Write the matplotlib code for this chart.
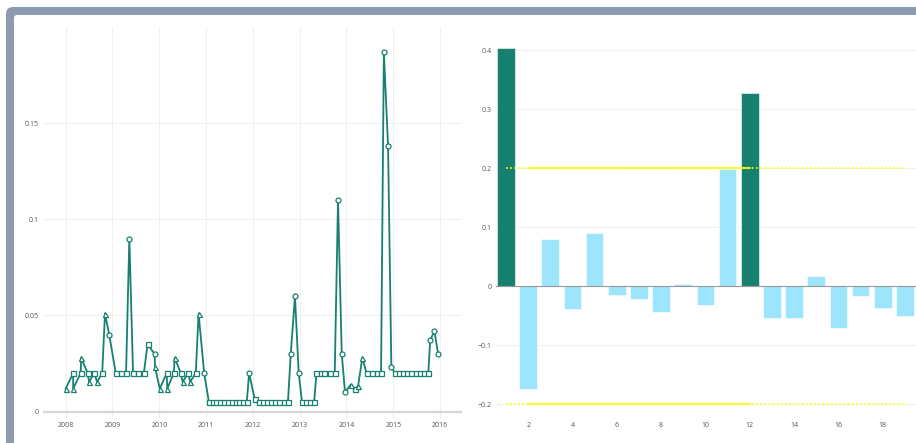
import matplotlib
matplotlib.use('Agg')
import matplotlib.pyplot as plt
from matplotlib.patches import FancyBboxPatch
import numpy as np

plt.rcParams['font.family'] = ['Open Sans', 'DejaVu Sans']

# monthly series (decimal year, value, marker symbol)
dates = [2008.00, 2008.16, 2008.16, 2008.32, 2008.33, 2008.47, 2008.50, 2008.61, 2008.67,
         2008.78, 2008.84, 2008.93, 2009.07, 2009.18, 2009.29, 2009.36, 2009.44, 2009.55,
         2009.67, 2009.75, 2009.90, 2009.91, 2010.01, 2010.16, 2010.17, 2010.31, 2010.33,
         2010.46, 2010.50, 2010.62, 2010.66, 2010.78, 2010.84, 2010.96,
         2011.06, 2011.14, 2011.22, 2011.30, 2011.38, 2011.46, 2011.55, 2011.63, 2011.71,
         2011.79, 2011.87, 2011.92, 2012.04,
         2012.13, 2012.22, 2012.30, 2012.39, 2012.47, 2012.56, 2012.66, 2012.75,
         2012.81, 2012.90, 2012.98, 2013.05, 2013.13, 2013.22, 2013.31,
         2013.36, 2013.45, 2013.53, 2013.65, 2013.75, 2013.82, 2013.90, 2013.97,
         2014.09, 2014.18, 2014.25, 2014.34, 2014.43, 2014.54, 2014.65, 2014.74,
         2014.80, 2014.89, 2014.96,
         2015.04, 2015.13, 2015.21, 2015.30, 2015.39, 2015.49, 2015.57, 2015.66, 2015.75,
         2015.79, 2015.88, 2015.96]
values = [0.012, 0.020, 0.012, 0.020, 0.028, 0.020, 0.0155, 0.020, 0.0155,
          0.020, 0.051, 0.040, 0.020, 0.020, 0.020, 0.090, 0.020, 0.020,
          0.020, 0.035, 0.030, 0.023, 0.012, 0.020, 0.012, 0.020, 0.028,
          0.020, 0.0155, 0.020, 0.0155, 0.020, 0.051, 0.020,
          0.005, 0.005, 0.005, 0.005, 0.005, 0.005, 0.005, 0.005, 0.005,
          0.005, 0.005, 0.020, 0.0065,
          0.005, 0.005, 0.005, 0.005, 0.005, 0.005, 0.005, 0.005,
          0.030, 0.060, 0.020, 0.005, 0.005, 0.005, 0.005,
          0.020, 0.020, 0.020, 0.020, 0.020, 0.110, 0.030, 0.010,
          0.014, 0.0116, 0.0135, 0.028, 0.020, 0.020, 0.020, 0.020,
          0.187, 0.138, 0.023,
          0.020, 0.020, 0.020, 0.020, 0.020, 0.020, 0.020, 0.020, 0.020,
          0.037, 0.042, 0.030]
symbols = ['^', 's', '^', 's', '^', 's', '^', 's', '^',
           's', '^', 'o', 's', 's', 's', 'o', 's', 's',
           's', 's', 'o', '^', '^', 's', '^', 's', '^',
           's', '^', 's', '^', 's', '^', 'o',
           's', 's', 's', 's', 's', 's', 's', 's', 's',
           's', 's', 'o', 's',
           's', 's', 's', 's', 's', 's', 's', 's',
           'o', 'o', 'o', 's', 's', 's', 's',
           's', 's', 's', 's', 's', 'o', 'o', 'o',
           '^', 's', '^', '^', 's', 's', 's', 's',
           'o', 'o', 'o',
           's', 's', 's', 's', 's', 's', 's', 's', 's',
           'o', 'o', 'o']
year_ticks = [2008, 2009, 2010, 2011, 2012, 2013, 2014, 2015, 2016]

# autocorrelation by lag
lags = list(range(1, 20))
acf = [0.404, -0.174, 0.080, -0.039, 0.091, -0.015, -0.021, -0.043, 0.004, -0.032,
       0.198, 0.328, -0.054, -0.053, 0.017, -0.070, -0.017, -0.037, -0.051]
conf_level = 0.2
lag_ticks = [2, 4, 6, 8, 10, 12, 14, 16, 18]

teal = '#178070'
light_blue = '#9de5fd'
grid_c = '#f0f0f0'
text_c = '#555555'

W, H = 916, 443
fig = plt.figure(figsize=(W / 100, H / 100), dpi=100)
fig.patch.set_facecolor('white')

# card frame with rounded corner
outer = FancyBboxPatch((6, -40), 980, 476, boxstyle='round,pad=0,rounding_size=7',
                       transform=None, facecolor='#8e9ab0', edgecolor='none', zorder=-3)
inner = FancyBboxPatch((14, -40), 980, 468, boxstyle='round,pad=0,rounding_size=3',
                       transform=None, facecolor='white', edgecolor='none', zorder=-2)
fig.patches.extend([outer, inner])


def px_axes(x0, y0, x1, y1):
    return fig.add_axes([x0 / W, 1 - y1 / H, (x1 - x0) / W, (y1 - y0) / H])


def style(ax):
    ax.set_facecolor('none')
    for s in ax.spines.values():
        s.set_visible(False)
    ax.tick_params(length=0, labelsize=5, colors=text_c, pad=3)


# left: time series
ax1 = px_axes(43, 27, 462, 418)
style(ax1)
ax1.set_xlim(2007.515, 2016.47)
ax1.set_ylim(-0.0033, 0.2)
ax1.set_xticks(year_ticks)
ax1.set_xticklabels([str(y) for y in year_ticks])
ax1.set_yticks([0, 0.05, 0.1, 0.15])
ax1.set_yticklabels(['0', '0.05', '0.1', '0.15'])
ax1.grid(True, color=grid_c, linewidth=0.8)
ax1.set_axisbelow(True)
ax1.axhline(0, color='#d6d6d6', linewidth=1.6, zorder=1)
ax1.plot(dates, values, color=teal, linewidth=1.3, zorder=2)
d = np.array(dates)
v = np.array(values)
sym = np.array(symbols)
for m in ['o', 's', '^']:
    k = sym == m
    ax1.plot(d[k], v[k], linestyle='none', marker=m, markersize=3.6,
             markerfacecolor='white', markeredgecolor=teal, markeredgewidth=0.9, zorder=3)

# right: autocorrelation bars
ax2 = px_axes(496, 27, 916, 418)
style(ax2)
ax2.set_xlim(0.55, 19.5)
ax2.set_ylim(-0.223, 0.439)
ax2.set_xticks(lag_ticks)
ax2.set_yticks([-0.2, -0.1, 0, 0.1, 0.2, 0.3, 0.4])
ax2.set_yticklabels(['\u22120.2', '\u22120.1', '0', '0.1', '0.2', '0.3', '0.4'])
ax2.yaxis.grid(True, color=grid_c, linewidth=0.8)
ax2.set_axisbelow(True)
colors = [teal if abs(a) > conf_level else light_blue for a in acf]
ax2.bar(lags, acf, width=0.8, color=colors, edgecolor='white', linewidth=0.4, zorder=2)
ax2.axhline(0, color='#999999', linewidth=0.8, zorder=3)
for lvl in (conf_level, -conf_level):
    ax2.plot([lags[0], lags[-1]], [lvl, lvl], color='#ffff00', linewidth=1.2,
             linestyle=(0, (1, 1.5)), zorder=4)
    ax2.plot([2, 12], [lvl, lvl], color='#ffff00', linewidth=1.2, zorder=4)

fig.savefig('out.png', dpi=100)
